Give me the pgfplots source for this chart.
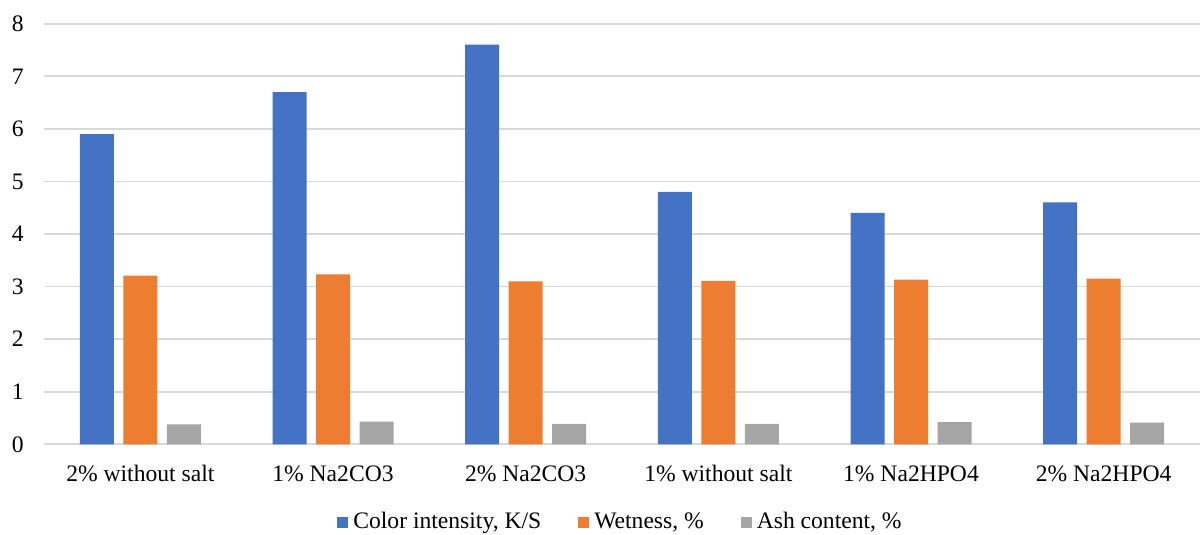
\documentclass[border=0pt]{standalone}
\usepackage{pgfplots}
\pgfplotsset{compat=1.18}
\usepackage{fontspec}
\setmainfont{Liberation Serif}

\definecolor{cblue}{HTML}{4472C4}
\definecolor{corange}{HTML}{ED7D31}
\definecolor{cgray}{HTML}{A5A5A5}
\definecolor{cgrid}{HTML}{D9D9D9}

\newcommand{\chartfont}{\fontsize{11.8pt}{14pt}\selectfont}

\begin{document}
\begin{tikzpicture}
\useasboundingbox (0,0) rectangle (600pt,267.5pt);
\begin{axis}[
    at={(22pt,45.35pt)}, anchor=south west,
    scale only axis,
    width=578pt, height=210.3pt,
    ybar=4.75pt, bar width=17pt,
    xmin=-0.5, xmax=5.5,
    ymin=0, ymax=8,
    ytick={0,1,...,8},
    xtick=data,
    xticklabels={2\% without salt, 1\% Na2CO3, 2\% Na2CO3, 1\% without salt, 1\% Na2HPO4, 2\% Na2HPO4},
    axis line style={draw=none},
    major tick length=0pt,
    ymajorgrids,
    grid style={draw=cgrid, line width=0.8pt},
    /pgf/number format/assume math mode=true,
    tick label style={font=\chartfont},
    yticklabel style={xshift=-6.6pt},
    xticklabel style={yshift=-7pt},
    legend columns=3,
    legend style={
        draw=none, font=\chartfont,
        at={(0.5,-0.185)}, anchor=center,
        /tikz/every even column/.append style={column sep=16pt},
        nodes={inner sep=2.5pt},
    },
    legend image code/.code={\fill[#1] (0pt,-2.75pt) rectangle (5.5pt,2.75pt);},
]
\addplot[fill=cblue, draw=none] coordinates {(0,5.9) (1,6.7) (2,7.6) (3,4.8) (4,4.4) (5,4.6)};
\addplot[fill=corange, draw=none] coordinates {(0,3.21) (1,3.23) (2,3.10) (3,3.11) (4,3.13) (5,3.15)};
\addplot[fill=cgray, draw=none] coordinates {(0,0.38) (1,0.43) (2,0.39) (3,0.39) (4,0.42) (5,0.41)};
\legend{{Color intensity, K/S}, {Wetness, \%}, {Ash content, \%}}
\end{axis}
\end{tikzpicture}
\end{document}
